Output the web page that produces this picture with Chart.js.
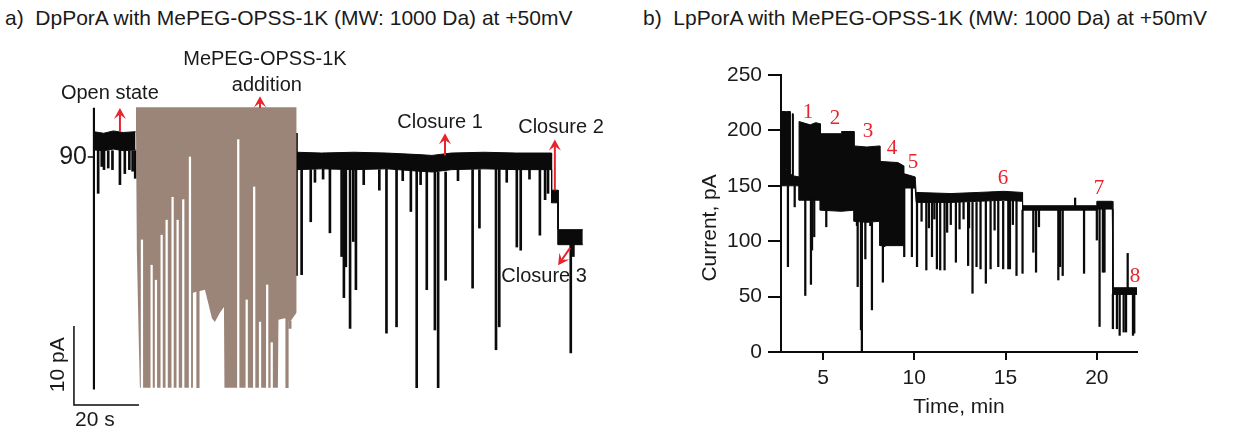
<!DOCTYPE html>
<html>
<head>
<meta charset="utf-8">
<script src="https://cdn.jsdelivr.net/npm/chart.js@4.4.0/dist/chart.umd.min.js"></script>
<style>
  body { margin: 0; background: #fff; width: 1253px; height: 433px; overflow: hidden;
         font-family: "Liberation Sans", Arial, sans-serif; }
  .title { position: absolute; top: 6px; font-size: 21px; color: #1a1a1a; white-space: pre; }
  #plotA { position: absolute; left: 0; top: 40px; }
  #plotB { position: absolute; left: 660px; top: 40px; }
</style>
</head>
<body>
<div class="title" style="left:5px">a)  DpPorA with MePEG-OPSS-1K (MW: 1000 Da) at +50mV</div>
<div class="title" style="left:643px">b)  LpPorA with MePEG-OPSS-1K (MW: 1000 Da) at +50mV</div>
<canvas id="plotA" width="640" height="393"></canvas>
<canvas id="plotB" width="593" height="393"></canvas>
<script>
// ---------------- panel a data (time in s, current in pA) ----------------
// open state before addition
const aOpenT   = [0, 3, 6, 9, 12.8];
const aOpenTop = [93.2, 93.0, 93.3, 93.1, 93.2];
const aOpenBot = [90.9, 90.8, 91.0, 90.8, 90.9];
// after addition: closure 1 level, closure 2 step, closure 3
const aPostT   = [62.4, 70, 80, 90, 100, 104, 110, 120, 130, 140.8, 140.8, 142.8, 142.8, 150.4];
const aPostTop = [90.6, 90.5, 90.6, 90.5, 90.3, 90.2, 90.5, 90.6, 90.5, 90.5, 85.8, 85.8, 80.8, 80.8];
const aPostBot = [88.4, 88.5, 88.4, 88.5, 88.2, 88.1, 88.4, 88.5, 88.4, 88.4, 84.2, 84.2, 78.9, 78.9];
// downward spikes (time, lowest current)
const aSpikeT  = [1.3, 2.4, 3.1, 4.4, 5.7, 8.0, 9.5, 10.9, 11.9, 12.7,
                  63.9, 66.7, 68.0, 70.5, 72.6, 76.2, 76.9, 77.5, 78.8, 79.8, 80.6, 83.0, 87.8, 90.0,
                  93.1, 95.0, 97.5, 99.3, 100.5, 102.4, 104.9, 105.9, 108.2, 112.0, 116.5, 118.6,
                  123.7, 124.7, 127.0, 130.1, 131.3, 134.0, 137.2, 138.8, 139.7, 146.7, 147.5];
const aSpikeLo = [85.4, 88.8, 88.4, 88.6, 88.4, 86.5, 87.9, 88.4, 88.2, 87.3,
                  75.1, 81.8, 86.8, 87.2, 80.4, 77.4, 72.2, 76.1, 68.3, 79.3, 73.2, 86.5, 85.8, 67.7,
                  68.5, 87.0, 83.1, 60.8, 86.5, 73.2, 68.1, 60.8, 74.4, 87.0, 73.4, 81.0,
                  65.6, 68.5, 86.8, 78.6, 78.2, 87.2, 80.1, 84.6, 85.4, 65.2, 77.4];
// large transients at the start of the record and after the addition
const aJumpT  = [0, 62.4];
const aJumpLo = [60.6, 75.0];
const aJumpHi = [96.2, 93.0];
// MePEG addition period (brown trace): upper edge and lower envelope
const brownTop = 96.3;
const brownT   = [12.9, 13.2, 13.85, 14.15, 30.3, 30.46, 34.15, 36.3, 37.2, 38.8, 40.0, 40.15,
                  56.6, 56.77, 58.77, 60.3, 62.37];
const brownLo  = [95.9, 78.2, 65.6, 60.8, 60.8, 72.8, 73.2, 69.6, 69.1, 70.3, 71.0, 60.8,
                  60.8, 69.4, 69.6, 69.1, 70.3];
const brownSpikeT  = [32.0, 59.4, 60.3];
const brownSpikeLo = [60.8, 60.8, 68.3];
const brownSpikeHi = [73.0, 69.5, 69.2];
// gaps between the brown sweeps (time, highest point of gap)
const gapT  = [14.77, 17.75, 19.08, 20.83, 22.37, 24.2, 25.75, 27.48, 29.54,
               44.4, 47.0, 49.3, 51.1, 53.3, 54.7];
const gapHi = [79.5, 76.3, 74.4, 80.1, 82.0, 84.9, 82.0, 84.6, 90.0,
               92.2, 71.9, 86.2, 69.1, 73.8, 66.5];
const gapLo = 60.8;
const scaleBarPA = 10, scaleBarS = 20;

// ---------------- panel b data (time in min, current in pA) ----------------
const bBandT   = [2.72, 2.95, 2.95, 3.00, 3.00, 3.20, 3.20, 3.32, 3.32, 3.36, 3.36, 3.69,
                  3.69, 4.30, 4.60, 4.85, 4.85, 6.00, 6.02, 6.70, 6.70, 7.40, 8.10,
                  8.12, 9.10, 9.42, 9.42, 10.05, 10.10, 12.0, 13.5, 14.9, 15.93,
                  15.93, 20.0, 20.0, 20.85, 20.88, 22.2];
const bBandTop = [217, 217, 165, 165, 217, 217, 160, 160, 215, 215, 159, 158,
                  208, 205, 207, 206, 197, 197, 199, 199, 186, 185, 186,
                  172, 171, 168, 161, 158, 144, 143, 144, 145, 144,
                  132, 132, 136, 136, 58, 58];
const bBandBot = [150, 150, 150, 150, 150, 150, 150, 150, 150, 150, 150, 150,
                  137, 137, 137, 137, 128, 127, 127, 128, 118, 117, 118,
                  96, 96, 96, 148, 148, 135, 135, 136, 137, 136,
                  128, 128, 129, 129, 52, 52];
const bSpikeT  = [3.08, 3.45, 4.03, 4.34, 4.40, 4.52, 5.18, 6.86, 6.90, 7.08, 7.13, 7.32, 7.59, 7.68,
                  8.28, 8.36, 9.45, 9.87, 10.15, 10.4, 10.66, 10.8, 10.97, 11.1, 11.24, 11.42, 11.66,
                  11.8, 12.0, 12.28, 12.48, 12.7, 12.95, 13.0, 13.19, 13.41, 13.63, 13.92, 14.18,
                  14.4, 14.60, 14.87, 15.15, 15.24, 15.4, 15.60, 15.93, 16.52, 16.67, 16.83, 17.89,
                  17.99, 18.13, 19.30, 20.00, 20.15, 20.33, 20.42, 20.88, 21.10, 21.25, 21.47,
                  21.60, 21.98, 22.05];
const bSpikeLo = [77, 131, 51, 61, 92, 104, 113, 114, 59, 20, 0, 84, 114, 38,
                  63, 95, 86, 86, 77, 118, 74, 112, 86, 120, 75, 74, 74,
                  108, 115, 81, 111, 120, 78, 112, 53, 77, 75, 62, 75,
                  110, 77, 75, 75, 75, 115, 69, 71, 90, 72, 113, 65,
                  77, 69, 71, 101, 23, 72, 72, 21, 21, 15, 18,
                  18, 15, 17];
const bUpT  = [18.81, 21.69];
const bUpHi = [139, 89];
const bTimeTicks = [5, 10, 15, 20];
const bLabels = ['1', '2', '3', '4', '5', '6', '7', '8'];
const bLabelT = [4.18, 5.66, 7.46, 8.78, 9.93, 14.86, 20.12, 22.09];
const bLabelV = [216.6, 211, 198.6, 184, 170.6, 157, 148, 68.6];

// ---------------- helpers ----------------
const SANS = '"Liberation Sans", Arial, sans-serif';
const SERIF = '"Liberation Serif", "Times New Roman", serif';
const RED = '#e8232b';
const BROWN = '#9b8579';
const INK = '#0a0a0a';

function pts(T, V) { return T.map((t, i) => ({ x: t, y: V[i] })); }
function stepAt(T, V, t) {
    let v = V[0];
    for (let i = 0; i < T.length; i++) if (T[i] <= t) v = V[i];
    return v;
}
function bars(T, lo, hi) { return T.map((t, i) => ({ x: t, y: [lo[i], hi[i]] })); }

function barSet(data, color, thick, order) {
    return { type: 'bar', data: data, backgroundColor: color, borderWidth: 0,
             barThickness: thick, grouped: false, order: order };
}
function lineSet(data, fill, color, order) {
    return { type: 'line', data: data, borderColor: color, backgroundColor: color,
             borderWidth: 1, pointRadius: 0, tension: 0, fill: fill, order: order };
}

// draws labels, red arrows and scale marks on top of the traces
const notes = {
    id: 'notes',
    afterDatasetsDraw(chart, args, opts) {
        const ctx = chart.ctx;
        const X = t => chart.scales.x.getPixelForValue(t);
        const Y = v => chart.scales.y.getPixelForValue(v);
        ctx.save();
        (opts.items || []).forEach(n => {
            if (n.arrow) {
                const [t1, v1, t2, v2] = n.arrow;
                const x1 = X(t1), y1 = Y(v1), x2 = X(t2), y2 = Y(v2);
                const a = Math.atan2(y2 - y1, x2 - x1), c = Math.cos(a), s = Math.sin(a);
                const L = 11, W = 6;
                ctx.strokeStyle = ctx.fillStyle = RED;
                ctx.lineWidth = 2;
                ctx.beginPath(); ctx.moveTo(x1, y1); ctx.lineTo(x2 - L * 0.6 * c, y2 - L * 0.6 * s); ctx.stroke();
                ctx.beginPath();
                ctx.moveTo(x2, y2);
                ctx.lineTo(x2 - L * c + W * s, y2 - L * s - W * c);
                ctx.lineTo(x2 - L * 0.6 * c, y2 - L * 0.6 * s);
                ctx.lineTo(x2 - L * c - W * s, y2 - L * s + W * c);
                ctx.closePath(); ctx.fill();
            }
            if (n.line) {
                const [t1, v1, t2, v2] = n.line;
                ctx.strokeStyle = INK; ctx.lineWidth = n.width || 1.5;
                ctx.beginPath(); ctx.moveTo(X(t1), Y(v1)); ctx.lineTo(X(t2), Y(v2)); ctx.stroke();
            }
            if (n.text) {
                ctx.save();
                ctx.translate(X(n.t), Y(n.v));
                if (n.rotate) ctx.rotate(n.rotate);
                ctx.font = (n.size || 20) + 'px ' + (n.family || SANS);
                ctx.fillStyle = n.color || '#1a1a1a';
                ctx.textAlign = n.align || 'center';
                ctx.textBaseline = 'middle';
                ctx.fillText(n.text, 0, 0);
                ctx.restore();
            }
        });
        ctx.restore();
    }
};

// ---------------- panel a ----------------
const aFloor = t => t <= 12.8 ? stepAt(aOpenT, aOpenBot, t) : stepAt(aPostT, aPostBot, t);
const barOriginT = -6.15, barOriginV = 58.6;

new Chart(document.getElementById('plotA'), {
    type: 'line',
    data: {
        datasets: [
            lineSet(pts(aOpenT, aOpenBot), false, INK, 6),
            lineSet(pts(aOpenT, aOpenTop), '-1', INK, 6),
            lineSet(pts(aPostT, aPostBot), false, INK, 6),
            lineSet(pts(aPostT, aPostTop), '-1', INK, 6),
            barSet(bars(aSpikeT, aSpikeLo, aSpikeT.map(aFloor)), INK, 2, 5),
            barSet(bars(aJumpT, aJumpLo, aJumpHi), INK, 1.5, 5),
            Object.assign(lineSet(pts(brownT, brownLo), { value: brownTop }, BROWN, 3), { borderWidth: 0 }),
            barSet(bars(brownSpikeT, brownSpikeLo, brownSpikeHi), BROWN, 2.5, 2),
            barSet(bars(gapT, gapT.map(() => gapLo), gapHi), '#ffffff', 1.6, 1),
            Object.assign(lineSet(pts([barOriginT, barOriginT, barOriginT + scaleBarS],
                                      [barOriginV + scaleBarPA, barOriginV, barOriginV]), false, INK, 0),
                          { borderWidth: 1.5 })
        ]
    },
    options: {
        responsive: false,
        animation: false,
        layout: { padding: 0 },
        scales: {
            x: { type: 'linear', display: false, min: -28.9, max: 168.0, offset: false },
            y: { type: 'linear', display: false, min: 55.06, max: 104.81 }
        },
        plugins: {
            legend: { display: false },
            tooltip: { enabled: false },
            notes: {
                items: [
                    { text: 'Open state', t: 4.9, v: 98.1 },
                    { arrow: [8.0, 93.2, 8.0, 96.2] },
                    { text: 'MePEG-OPSS-1K', t: 52.6, v: 102.3 },
                    { text: 'addition', t: 53.2, v: 99.1 },
                    { arrow: [51.1, 96.2, 51.1, 97.7] },
                    { text: 'Closure 1', t: 106.5, v: 94.4 },
                    { arrow: [108.0, 90.2, 108.0, 93.0] },
                    { text: 'Closure 2', t: 143.7, v: 93.7 },
                    { arrow: [141.8, 85.8, 141.8, 92.2] },
                    { text: 'Closure 3', t: 138.5, v: 74.9 },
                    { arrow: [146.5, 78.5, 142.8, 76.3] },
                    { text: '90', t: -2.15, v: 90, align: 'right', size: 25 },
                    { line: [-1.9, 90, -0.2, 90], width: 1.5 },
                    { text: scaleBarPA + ' pA', t: -11.1, v: 63.7, rotate: -Math.PI / 2, size: 21 },
                    { text: scaleBarS + ' s', t: 0.3, v: 56.7, size: 21 }
                ]
            }
        }
    },
    plugins: [notes]
});

// ---------------- panel b ----------------
const bFloor = t => stepAt(bBandT, bBandBot, t);
const bCeil = t => stepAt(bBandT, bBandTop, t);
const axisFont = { family: SANS, size: 21 };

new Chart(document.getElementById('plotB'), {
    type: 'line',
    data: {
        datasets: [
            lineSet(pts(bBandT, bBandBot), false, INK, 3),
            lineSet(pts(bBandT, bBandTop), '-1', INK, 3),
            barSet(bars(bSpikeT, bSpikeLo, bSpikeT.map(bFloor)), INK, 1.6, 2),
            barSet(bars(bUpT, bUpT.map(bCeil), bUpHi), INK, 1.6, 2)
        ]
    },
    options: {
        responsive: false,
        animation: false,
        layout: { padding: { left: 35, top: 35, right: 116, bottom: 0 } },
        scales: {
            x: {
                type: 'linear', min: 2.7, max: 22.2, offset: false,
                afterBuildTicks: s => { s.ticks = bTimeTicks.map(v => ({ value: v })); },
                afterFit: s => { s.height = 81; },
                grid: { offset: false, drawOnChartArea: false, drawTicks: true, tickLength: 8,
                        color: INK, lineWidth: 2 },
                border: { color: INK, width: 2 },
                ticks: { color: '#1a1a1a', font: axisFont, padding: 6, maxRotation: 0 },
                title: { display: true, text: 'Time, min', color: '#1a1a1a', font: axisFont,
                         padding: { top: 0, bottom: 13 } }
            },
            y: {
                type: 'linear', min: 0, max: 250,
                afterFit: s => { s.width = 86; },
                grid: { offset: false, drawOnChartArea: false, drawTicks: true, tickLength: 13,
                        color: INK, lineWidth: 2 },
                border: { color: INK, width: 2 },
                ticks: { stepSize: 50, color: '#1a1a1a', font: axisFont, padding: 6 },
                title: { display: false }
            }
        },
        plugins: {
            legend: { display: false },
            tooltip: { enabled: false },
            notes: {
                items: bLabels.map((s, i) => ({ text: s, t: bLabelT[i], v: bLabelV[i],
                                                 size: 21, family: SERIF, color: RED }))
                    .concat([{ text: 'Current, pA', t: -1.19, v: 112, rotate: -Math.PI / 2, size: 21 }])
            }
        }
    },
    plugins: [notes]
});
</script>
</body>
</html>
